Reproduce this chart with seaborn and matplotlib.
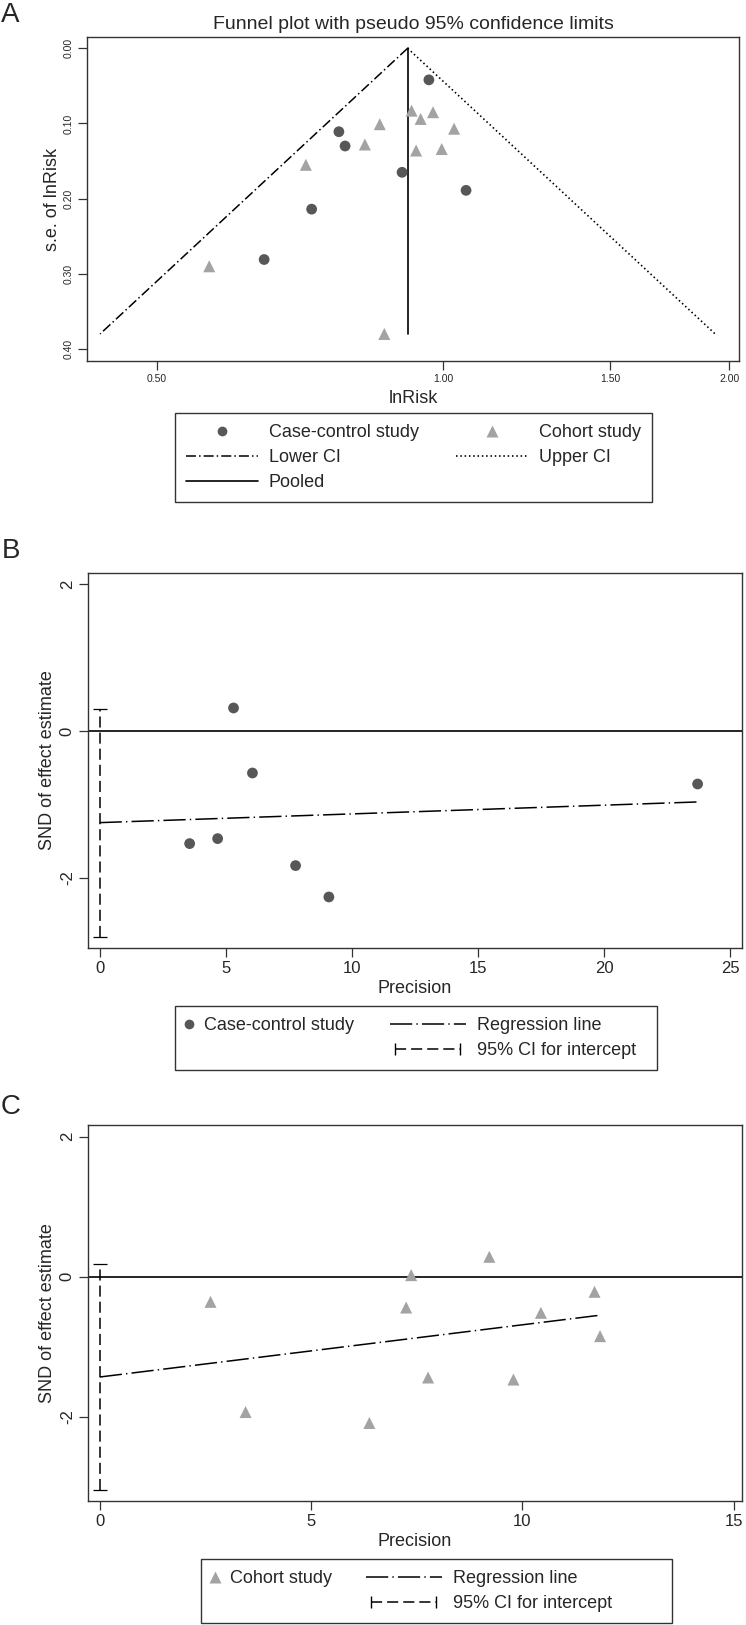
import numpy as np
import matplotlib.pyplot as plt
from matplotlib.lines import Line2D
from matplotlib.legend_handler import HandlerLine2D
import seaborn as sns

# Panel A: funnel plot, ln(risk) vs s.e.
cc_lnrr = [-0.252, -0.237, -0.318, -0.433, -0.034, -0.099, 0.056]
cc_se = [0.111, 0.130, 0.214, 0.281, 0.042, 0.165, 0.189]
coh_lnrr = [-0.153, -0.189, -0.332, -0.566, -0.142, -0.076, -0.024, -0.054, 0.027, -0.065, -0.003]
coh_se = [0.101, 0.128, 0.155, 0.290, 0.380, 0.083, 0.085, 0.094, 0.107, 0.136, 0.134]
pooled_lnrr = -0.0855
se_max = 0.38
risk_ticks = [0.5, 1.0, 1.5, 2.0]
risk_labels = ['0.50', '1.00', '1.50', '2.00']
se_ticks = [0.0, 0.1, 0.2, 0.3, 0.4]
se_labels = ['0.00', '0.10', '0.20', '0.30', '0.40']

# Panel B: Egger regression, case-control studies
cc_prec = [5.31, 6.06, 3.57, 4.68, 7.77, 9.09, 23.71]
cc_snd = [0.314, -0.573, -1.536, -1.468, -1.836, -2.264, -0.723]
cc_intercept = -1.25
cc_slope = 0.0119
cc_ci = [-2.815, 0.296]

# Panel C: Egger regression, cohort studies
coh_prec = [2.62, 3.45, 6.38, 9.22, 7.37, 7.25, 7.77, 9.79, 10.44, 11.71, 11.84]
coh_snd = [-0.357, -1.93, -2.086, 0.286, 0.024, -0.438, -1.437, -1.466, -0.514, -0.214, -0.847]
coh_intercept = -1.43
coh_slope = 0.0745
coh_ci = [-3.04, 0.181]

snd_ticks = [-2, 0, 2]
snd_labels = ['-2', '0', '2']

CC_COL = '#575757'
COH_COL = '#a3a3a3'
SPINE = '#333333'
DASHDOT_A = (7.2, 2.2, 1.1, 2.2)
DASHDOT_REG = (16, 3, 1, 3)
DOTTED = (1.1, 2.0)
DASHED = (8, 3.6)

sns.set_style('ticks')
plt.rcParams['font.family'] = ['Liberation Sans', 'DejaVu Sans']
plt.rcParams['lines.scale_dashes'] = False

W, H = 746, 1625
fig = plt.figure(figsize=(W / 100, H / 100), dpi=100)


def box(left, top, right, bottom):
    return [left / W, 1 - bottom / H, (right - left) / W, (bottom - top) / H]


def style_axes(ax, tick_size):
    for sp in ax.spines.values():
        sp.set_color(SPINE)
        sp.set_linewidth(1.0)
    ax.tick_params(axis='both', direction='out', length=6.5, width=0.9,
                   color=SPINE, labelsize=tick_size, pad=3)


# ---------- A ----------
axA = fig.add_axes(box(87, 37, 739, 361))
se_line = np.array([0, se_max])
axA.plot(pooled_lnrr - 1.96 * se_line, se_line, color='black', lw=1.1, dashes=DASHDOT_A)
axA.plot(pooled_lnrr + 1.96 * se_line, se_line, color='black', lw=1.2, dashes=DOTTED)
axA.plot([pooled_lnrr, pooled_lnrr], se_line, color='black', lw=1.2)
sns.scatterplot(x=cc_lnrr, y=cc_se, marker='o', s=60, color=CC_COL, edgecolor='none', ax=axA, zorder=3)
sns.scatterplot(x=coh_lnrr, y=coh_se, marker='^', s=75, color=COH_COL, edgecolor='none', ax=axA, zorder=3)
axA.set_xlim(-0.862, 0.717)
axA.set_ylim(0.416, -0.015)
axA.set_xticks(np.log(risk_ticks))
axA.set_xticklabels(risk_labels)
axA.set_yticks(se_ticks)
axA.set_yticklabels(se_labels, rotation=90, va='center')
style_axes(axA, 7.5)
axA.set_xlabel('lnRisk', fontsize=13, labelpad=4)
axA.set_ylabel('s.e. of lnRisk', fontsize=13, labelpad=2)
axA.set_title('Funnel plot with pseudo 95% confidence limits', fontsize=14, pad=6)

hA = [Line2D([], [], ls='none', marker='o', ms=7, color=CC_COL, mec='none'),
      Line2D([], [], color='black', lw=1.1, dashes=DASHDOT_A),
      Line2D([], [], color='black', lw=1.2),
      Line2D([], [], ls='none', marker='^', ms=8, color=COH_COL, mec='none'),
      Line2D([], [], color='black', lw=1.2, dashes=DOTTED)]
lA = ['Case-control study', 'Lower CI', 'Pooled', 'Cohort study', 'Upper CI']
legA = fig.legend(hA, lA, ncol=2, loc='upper left', mode='expand',
                  bbox_to_anchor=(175 / W, 1 - 413 / H, (652 - 175) / W, 0),
                  fontsize=13, handlelength=4, handletextpad=0.6, borderpad=0.6,
                  labelspacing=0.45, fancybox=False, framealpha=1, edgecolor=SPINE,
                  borderaxespad=0)
legA.get_frame().set_linewidth(1.0)


# ---------- B and C ----------
def egger_panel(top, bottom, prec, snd, intercept, slope, ci, marker, color, ms,
                xlim, ylim, xticks, leg_box, leg_label, reg_x):
    ax = fig.add_axes(box(88, top, 742, bottom))
    ax.axhline(0, color='black', lw=1.2)
    xs = np.array([0, max(prec)])
    ax.plot(xs, intercept + slope * xs, color='black', lw=1.1, dashes=DASHDOT_REG)
    eb = ax.errorbar(0, (ci[0] + ci[1]) / 2, yerr=(ci[1] - ci[0]) / 2, fmt='none',
                     ecolor='black', elinewidth=1.1, capsize=5, capthick=0.9)
    eb.lines[2][0].set_linestyle((0, DASHED))
    sns.scatterplot(x=prec, y=snd, marker=marker, s=ms, color=color, edgecolor='none', ax=ax, zorder=3)
    ax.set_xlim(*xlim)
    ax.set_ylim(*ylim)
    ax.set_xticks(xticks)
    ax.set_yticks(snd_ticks)
    ax.set_yticklabels(snd_labels, rotation=90, va='center')
    style_axes(ax, 12)
    ax.set_xlabel('Precision', fontsize=13, labelpad=3)
    ax.set_ylabel('SND of effect estimate', fontsize=13, labelpad=3)

    left, ltop, right, lbottom = leg_box
    h1 = [Line2D([], [], ls='none', marker=marker,
                 ms=7 if marker == 'o' else 8, color=color, mec='none'),
          Line2D([], [], ls='none')]
    l1 = fig.legend(h1, [leg_label, ' '], loc='upper left', mode='expand',
                    bbox_to_anchor=(left / W, 1 - ltop / H, (right - left) / W, 0),
                    fontsize=13, handlelength=0.4, handletextpad=0.6, borderpad=0.6,
                    labelspacing=0.45, fancybox=False, framealpha=1, edgecolor=SPINE,
                    borderaxespad=0)
    l1.get_frame().set_linewidth(1.0)
    ci_h = Line2D([], [], color='black', lw=1.1, dashes=DASHED, marker='|', ms=8, mew=1)
    h2 = [Line2D([], [], color='black', lw=1.1, dashes=DASHDOT_REG), ci_h]
    fig.legend(h2, ['Regression line', '95% CI for intercept'], loc='upper left',
               bbox_to_anchor=(reg_x / W, 1 - (ltop + 11) / H), fontsize=13,
               handlelength=4.2, handletextpad=0.6, borderpad=0, labelspacing=0.45,
               frameon=False, borderaxespad=0,
               handler_map={ci_h: HandlerLine2D(numpoints=2)})
    return ax


egger_panel(573, 948, cc_prec, cc_snd, cc_intercept, cc_slope, cc_ci, 'o', CC_COL, 60,
            (-0.46, 25.47), (-2.96, 2.155), [0, 5, 10, 15, 20, 25],
            (175, 1006, 657, 1067), 'Case-control study', 390)
egger_panel(1125, 1501, coh_prec, coh_snd, coh_intercept, coh_slope, coh_ci, '^', COH_COL, 75,
            (-0.28, 15.2), (-3.20, 2.167), [0, 5, 10, 15],
            (201, 1559, 672, 1618), 'Cohort study', 366)

for lab, (px, py) in zip(['A', 'B', 'C'], [(10, 15), (11, 551), (11, 1107)]):
    fig.text(px / W, 1 - py / H, lab, fontsize=20, ha='center', va='center')

fig.savefig('out.png', dpi=100)
